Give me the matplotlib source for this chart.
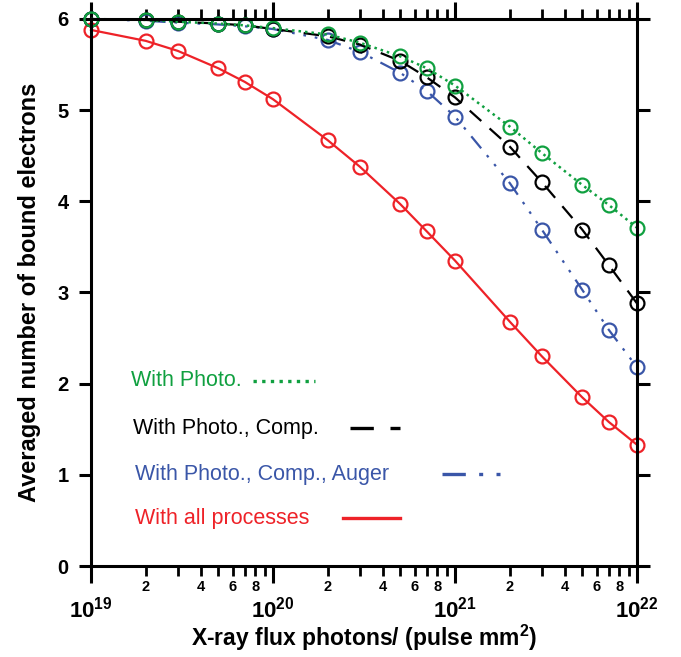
import numpy as np
import matplotlib
matplotlib.use("Agg")
import matplotlib.pyplot as plt
from matplotlib.ticker import FixedLocator

plt.rcParams['font.family'] = ['Liberation Sans', 'DejaVu Sans']
plt.rcParams['mathtext.fontset'] = 'custom'
plt.rcParams['mathtext.rm'] = 'Liberation Sans:bold'
plt.rcParams['mathtext.it'] = 'Liberation Sans:bold'
plt.rcParams['mathtext.bf'] = 'Liberation Sans:bold'

# flux values (photons / pulse mm^2)
flux = [1e19, 2e19, 3e19, 5e19, 7e19, 1e20, 2e20, 3e20, 5e20, 7e20,
        1e21, 2e21, 3e21, 5e21, 7e21, 1e22]

photo = [6.0, 5.99, 5.97, 5.95, 5.93, 5.90, 5.83, 5.74, 5.59, 5.46,
         5.27, 4.82, 4.53, 4.18, 3.96, 3.71]
photo_comp = [6.0, 5.99, 5.97, 5.95, 5.93, 5.89, 5.81, 5.72, 5.54, 5.36,
              5.14, 4.60, 4.21, 3.69, 3.30, 2.88]
photo_comp_auger = [6.0, 5.98, 5.96, 5.94, 5.92, 5.89, 5.77, 5.64, 5.41, 5.21,
                    4.93, 4.20, 3.69, 3.03, 2.59, 2.18]
all_proc = [5.88, 5.76, 5.65, 5.46, 5.31, 5.12, 4.67, 4.38, 3.97, 3.67,
            3.35, 2.68, 2.30, 1.85, 1.58, 1.33]

green = '#10a040'
blue = '#3a56a8'
red = '#ee2228'

fig = plt.figure(figsize=(6.81, 6.57), dpi=100)
ax = fig.add_axes([0.1336, 0.1385, 0.8018, 0.8326])

mk = dict(marker='o', markersize=10, markerfacecolor='none', markeredgewidth=1.6, clip_on=False)
dashdot3 = (0, (7, 4, 1.2, 4, 1.2, 4, 1.2, 4))
ax.plot(flux, all_proc, color=red, lw=1.6, ls='-', markeredgecolor=red, **mk)
ax.plot(flux, photo_comp_auger, color=blue, lw=1.6, ls=dashdot3, markeredgecolor=blue, **mk)
ax.plot(flux, photo_comp, color='black', lw=1.6, ls=(0, (7, 5)), markeredgecolor='black', **mk)
ax.plot(flux, photo, color=green, lw=1.8, ls=(0, (1, 1.6)), markeredgecolor=green, **mk)

ax.set_xscale('log')
ax.set_xlim(1e19, 1e22)
ax.set_ylim(0, 6)

for s in ax.spines.values():
    s.set_linewidth(2.2)

ax.set_yticks([0, 1, 2, 3, 4, 5, 6])
ax.set_yticklabels(['0', '1', '2', '3', '4', '5', '6'], fontsize=14.5, fontweight='bold')
ax.tick_params(axis='y', which='major', direction='out', length=9, width=2.2,
               left=True, right=True, pad=7)

ax.xaxis.set_major_locator(FixedLocator([1e19, 1e20, 1e21, 1e22]))
ax.set_xticklabels(['$10^{19}$', '$10^{20}$', '$10^{21}$', '$10^{22}$'], fontsize=16)
minors = []
minor_labels = []
for dec in [1e19, 1e20, 1e21]:
    for m in range(2, 10):
        minors.append(m * dec)
        minor_labels.append(str(m) if m in (2, 4, 6, 8) else '')
ax.set_xticks(minors, minor=True)
ax.set_xticklabels(minor_labels, minor=True, fontsize=10.5, fontweight='bold')
ax.tick_params(axis='x', which='major', direction='out', length=12, width=2.2,
               top=True, bottom=True, pad=10)
ax.tick_params(axis='x', which='minor', direction='out', length=7, width=2.0,
               top=True, bottom=True, pad=3)

ax.set_xlabel('X-ray flux photons/ (pulse mm$^2$)', fontsize=16.5, fontweight='bold', labelpad=0)
ax.set_ylabel('Averaged number of bound electrons', fontsize=17, fontweight='bold', labelpad=12)

# legend drawn by hand
tr = ax.transAxes
def ax_x(px):
    return (px - 91) / 546.0
def ax_y(py):
    return (566 - py) / 547.0

leg = [
    ('With Photo.', green, (0, (1, 1.6)), 131, 381, 253, 315),
    ('With Photo., Comp.', 'black', (0, (7, 5)), 133, 428, 350, 400),
    ('With Photo., Comp., Auger', blue, dashdot3, 135, 474, 442, 503),
    ('With all processes', red, '-', 135, 518, 343, 400),
]
for txt, col, ls, tx, ty, l0, l1 in leg:
    ax.text(ax_x(tx), ax_y(ty), txt, color=col, fontsize=15.5,
            transform=tr, va='center', ha='left')
    ax.plot([ax_x(l0), ax_x(l1)], [ax_y(ty), ax_y(ty)], color=col, ls=ls, lw=2.4,
            transform=tr)

fig.savefig('out.png', dpi=100)
